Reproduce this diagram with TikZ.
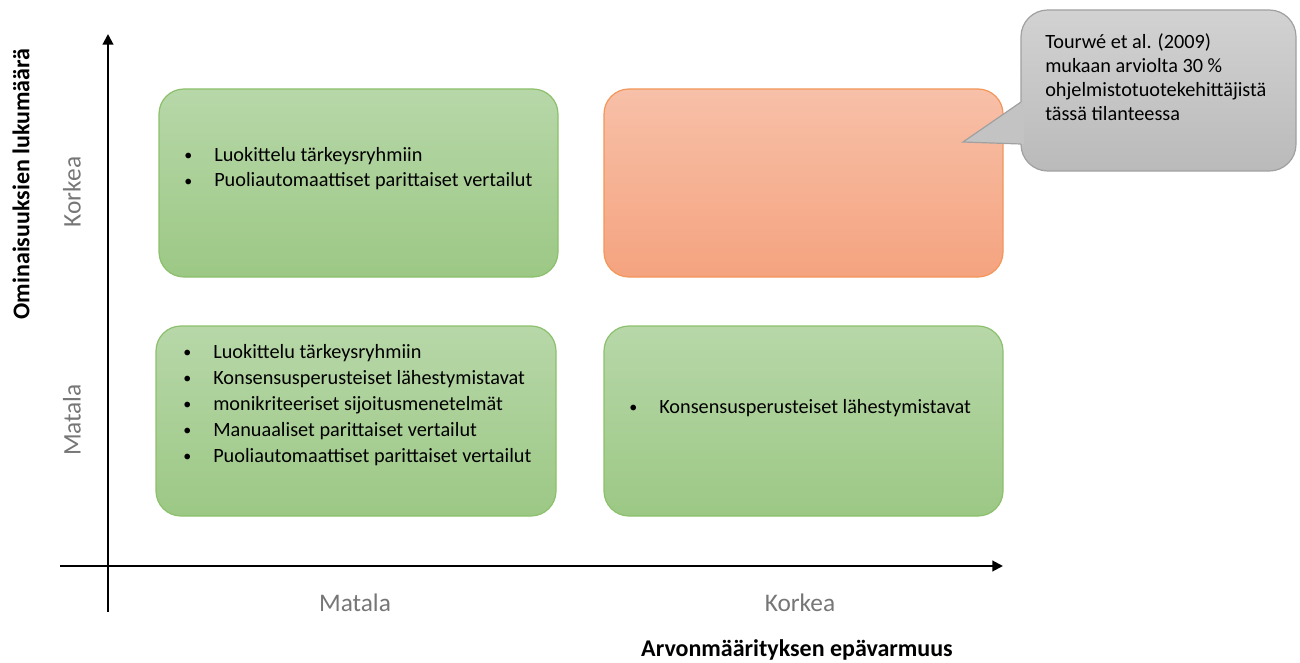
\documentclass[tikz,border=0pt]{standalone}
\usepackage{fontspec}
\setmainfont{Carlito}
\usetikzlibrary{arrows.meta}
\definecolor{gtop}{RGB}{183,215,168}
\definecolor{gbot}{RGB}{156,200,133}
\definecolor{gline}{RGB}{140,192,108}
\definecolor{otop}{RGB}{247,192,168}
\definecolor{obot}{RGB}{245,163,127}
\definecolor{oline}{RGB}{242,150,90}
\definecolor{ctop}{RGB}{210,210,210}
\definecolor{cbot}{RGB}{186,186,186}
\definecolor{cmid}{RGB}{195,195,195}
\definecolor{cline}{RGB}{160,160,160}
\definecolor{ticklab}{RGB}{118,118,118}
\newcommand\bl[1]{\makebox[22.5pt][l]{\raisebox{0.6pt}{\fontsize{12}{12}\selectfont •}}#1}
\begin{document}
\begin{tikzpicture}[x=0.75pt,y=-0.75pt,
  quad/.style={rounded corners=18.75pt, line width=0.9pt, inner sep=0pt},
  gquad/.style={quad, draw=gline, top color=gtop, bottom color=gbot},
  oquad/.style={quad, draw=oline, top color=otop, bottom color=obot},
  body/.style={font=\fontsize{15.2}{19.4}\selectfont, align=left, inner sep=0pt, anchor=base west},
  ticklabel/.style={font=\fontsize{19}{22}\selectfont, text=ticklab},
  axtitle/.style={font=\fontsize{18}{21}\selectfont\bfseries},
  axis/.style={line width=1.5pt, draw=black},
  tip/.style={-{Triangle[length=8pt,width=8pt]}}
]
\useasboundingbox (0,0) rectangle (1300,663);

% axes
\coordinate (yb) at (108,612);
\coordinate (yt) at (108,34);
\coordinate (xl) at (60,566);
\coordinate (xr) at (1003,566);
\draw[axis, tip] (yb) -- (yt);
\draw[axis, tip] (xl) -- (xr);

% quadrants
\node[gquad, minimum width=399*0.75pt, minimum height=188*0.75pt] (tl) at (358.5,183) {};
\node[oquad, minimum width=399*0.75pt, minimum height=188*0.75pt] (tr) at (803.5,183) {};
\node[gquad, minimum width=400*0.75pt, minimum height=190*0.75pt] (bl) at (356,421) {};
\node[gquad, minimum width=399*0.75pt, minimum height=190*0.75pt] (br) at (803.5,421) {};

% (multi-line nodes: base anchor = last line baseline)
\node[body] (tltext) at (184,187) {\bl{Luokittelu tärkeysryhmiin}\\\bl{Puoliautomaattiset parittaiset vertailut}};
\node[body] (bltext) at (183,462) {\bl{Luokittelu tärkeysryhmiin}\\\bl{Konsensusperusteiset lähestymistavat}\\\bl{monikriteeriset sijoitusmenetelmät}\\\bl{Manuaaliset parittaiset vertailut}\\\bl{Puoliautomaattiset parittaiset vertailut}};
\node[body] (brtext) at (629,413) {\bl{Konsensusperusteiset lähestymistavat}};

% callout
\node[rounded corners=20pt, line width=0.9pt, draw=cline, top color=ctop, bottom color=cbot,
      minimum width=275*0.75pt, minimum height=161*0.75pt, inner sep=0pt] (callout) at (1158.5,90.5) {};
\coordinate (ctip) at (963,142);
\coordinate (ctop1) at (1021,102);
\coordinate (cbot1) at (1021,144);
\fill[cmid] (ctip) -- (ctop1) -- (1024,102) -- (1024,144) -- (cbot1) -- cycle;
\draw[cline, line width=0.9pt, line join=miter] (ctop1) -- (ctip) -- (cbot1);
\node[body, font=\fontsize{15.2}{18}\selectfont] (ctext) at (1045,121) {Tourwé et al. (2009)\\mukaan arviolta 30 \%\\ohjelmistotuotekehittäjistä\\tässä tilanteessa};

% axis labels
\node[ticklabel] (xlow) at (355,603) {Matala};
\node[ticklabel] (xhigh) at (800,603) {Korkea};
\node[ticklabel, rotate=90] (ylow) at (72,420) {Matala};
\node[ticklabel, rotate=90] (yhigh) at (72,192) {Korkea};
\node[axtitle, rotate=90] (ytitle) at (21,184) {Ominaisuuksien lukumäärä};
\node[axtitle, anchor=base] (xtitle) at (797,656) {Arvonmäärityksen epävarmuus};
\end{tikzpicture}
\end{document}
